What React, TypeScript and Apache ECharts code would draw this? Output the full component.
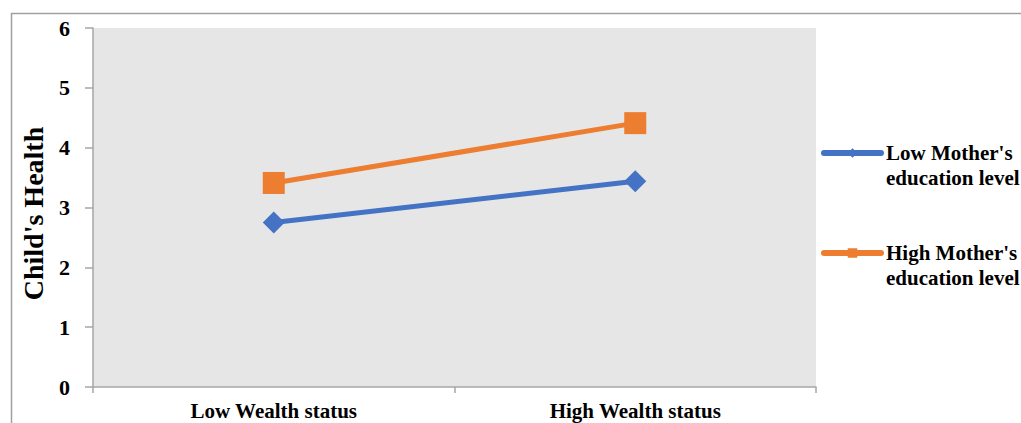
import React, { useEffect, useRef } from "react";
import * as echarts from "echarts";

const categories = ["Low Wealth status", "High Wealth status"];
const lowMotherEdu = [2.75, 3.44];
const highMotherEdu = [3.41, 4.41];
const seriesNames = ["Low Mother's\neducation level", "High Mother's\neducation level"];
const yTicks = { min: 0, max: 6, interval: 1 };

const FONT = "'Liberation Serif', 'Times New Roman', serif";
const BLUE = "#4472C4";
const ORANGE = "#ED7D31";
const AXIS = "#A6A6A6";

export default function App() {
  const ref = useRef<HTMLDivElement>(null);
  useEffect(() => {
    if (!ref.current) return;
    const chart = echarts.init(ref.current, undefined, { renderer: "svg" });
    const legendText = {
      fontFamily: FONT,
      fontWeight: "bold" as const,
      fontSize: 21,
      color: "#000",
      lineHeight: 25,
    };
    const legendBase = {
      left: 821,
      padding: 0,
      itemWidth: 57,
      itemHeight: 12,
      itemGap: 5,
      selectedMode: false,
      textStyle: legendText,
      lineStyle: { width: 6, cap: "round" },
      formatter: (name: string) => " \n" + name,
    };
    chart.setOption({
      animation: false,
      backgroundColor: "#fff",
      graphic: [
        {
          type: "rect",
          shape: { x: 11.5, y: 13.5, width: 1030, height: 430 },
          style: { fill: "none", stroke: "#A0A0A0", lineWidth: 1.5 },
          silent: true,
          z: -1,
        },
      ],
      grid: {
        left: 93,
        right: 205,
        top: 28,
        bottom: 36,
        show: true,
        backgroundColor: "#E6E6E6",
        borderWidth: 0,
      },
      legend: [
        { ...legendBase, data: [seriesNames[0]], top: 153 - 37.5 },
        { ...legendBase, data: [seriesNames[1]], top: 253 - 37.5 },
      ],
      xAxis: {
        type: "category",
        data: categories,
        boundaryGap: true,
        axisLine: { show: true, lineStyle: { color: AXIS, width: 1.5 } },
        axisTick: { show: true, length: 6, lineStyle: { color: AXIS, width: 1.5 } },
        axisLabel: {
          margin: 13,
          fontFamily: FONT,
          fontWeight: "bold",
          fontSize: 21,
          color: "#000",
        },
        splitLine: { show: false },
      },
      yAxis: {
        type: "value",
        min: yTicks.min,
        max: yTicks.max,
        interval: yTicks.interval,
        name: "Child's Health",
        nameLocation: "middle",
        nameGap: 46,
        nameRotate: 90,
        nameTextStyle: {
          fontFamily: FONT,
          fontWeight: "bold",
          fontSize: 28,
          color: "#000",
          padding: [0, 12, 0, 0],
        },
        axisLine: { show: true, lineStyle: { color: AXIS, width: 1.5 } },
        axisTick: { show: true, length: 8, lineStyle: { color: AXIS, width: 1.5 } },
        axisLabel: {
          margin: 23,
          fontFamily: FONT,
          fontWeight: "bold",
          fontSize: 22,
          color: "#000",
        },
        splitLine: { show: false },
      },
      series: [
        {
          name: seriesNames[0],
          type: "line",
          data: lowMotherEdu,
          symbol: "diamond",
          symbolSize: 22,
          color: BLUE,
          lineStyle: { width: 5, color: BLUE },
          itemStyle: { color: BLUE },
        },
        {
          name: seriesNames[1],
          type: "line",
          data: highMotherEdu,
          symbol: "rect",
          symbolSize: 22,
          color: ORANGE,
          lineStyle: { width: 5, color: ORANGE },
          itemStyle: { color: ORANGE },
        },
      ],
    });
    return () => chart.dispose();
  }, []);
  return (
    <div
      ref={ref}
      style={{ position: "absolute", left: 0, top: 0, width: 1021, height: 423 }}
    />
  );
}
